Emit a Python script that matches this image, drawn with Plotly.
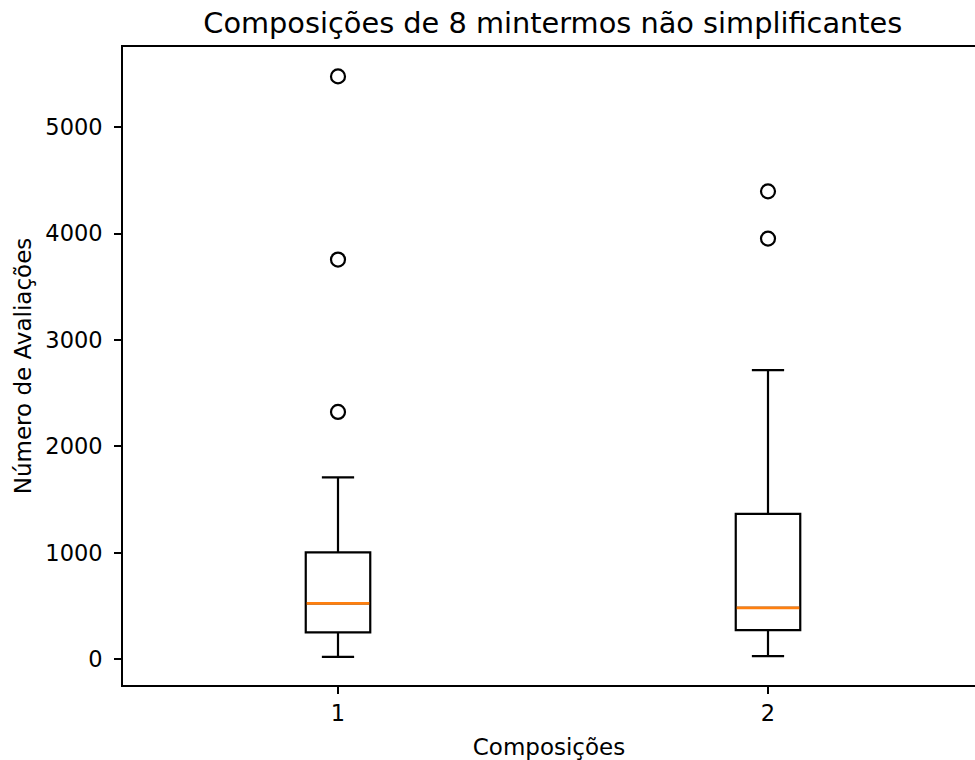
import plotly.graph_objects as go

positions = [1, 2]
tick_labels = ["1", "2"]
q1 = [253, 275]
median = [526, 484]
q3 = [1004, 1367]
lower_whisker = [24, 31]
upper_whisker = [1709, 2716]
outliers = [[2324, 3755, 5476], [3952, 4396]]

title = "Composições de 8 mintermos não simplificantes"
x_label = "Composições"
y_label = "Número de Avaliações"

BOX_W = 0.15
FONT = "DejaVu Sans"

fig = go.Figure()
fig.add_trace(go.Box(
    x=positions, q1=q1, median=median, q3=q3,
    lowerfence=lower_whisker, upperfence=upper_whisker,
    width=BOX_W, whiskerwidth=0.5,
    line=dict(color="black", width=2.2),
    fillcolor="rgba(0,0,0,0)", boxpoints=False,
    showlegend=False, hoverinfo="skip",
))
for p, m in zip(positions, median):
    fig.add_trace(go.Scatter(
        x=[p - BOX_W / 2 + 0.002, p + BOX_W / 2 - 0.002], y=[m, m], mode="lines",
        line=dict(color="#ff7f0e", width=2.8), showlegend=False, hoverinfo="skip",
    ))
for p, outs in zip(positions, outliers):
    fig.add_trace(go.Scatter(
        x=[p] * len(outs), y=outs, mode="markers",
        marker=dict(symbol="circle-open", size=14, color="black", line=dict(width=2.2)),
        showlegend=False, hoverinfo="skip",
    ))

fig.update_layout(
    width=975, height=760,
    margin=dict(l=123, r=0, t=47, b=75),
    paper_bgcolor="white", plot_bgcolor="white",
    font=dict(family=FONT, size=22.5, color="black"),
    title=dict(text=title, x=0.567, xanchor="center",
               y=1 - 23 / 760, yanchor="middle", yref="container",
               font=dict(size=28.8, family=FONT, color="black")),
    xaxis=dict(
        range=[0.5, 2.4814], tickvals=positions, ticktext=tick_labels,
        showgrid=False, zeroline=False, showline=True, linecolor="black", linewidth=1.8,
        mirror=True, ticks="outside", ticklen=7, tickwidth=1.8, tickcolor="black",
        title=dict(text=x_label, standoff=14, font=dict(size=23)),
    ),
    yaxis=dict(
        range=[-241, 5752], tickvals=[0, 1000, 2000, 3000, 4000, 5000],
        showgrid=False, zeroline=False, showline=True, linecolor="black", linewidth=1.8,
        ticks="outside", ticklen=7, tickwidth=1.8, tickcolor="black",
        ticklabelstandoff=7,
        title=dict(text=y_label, standoff=7, font=dict(size=23)),
    ),
)

fig.write_html(
    "out.html",
    config={"displayModeBar": False},
    post_script="document.body.style.margin='0px';document.body.style.overflow='hidden';",
)
